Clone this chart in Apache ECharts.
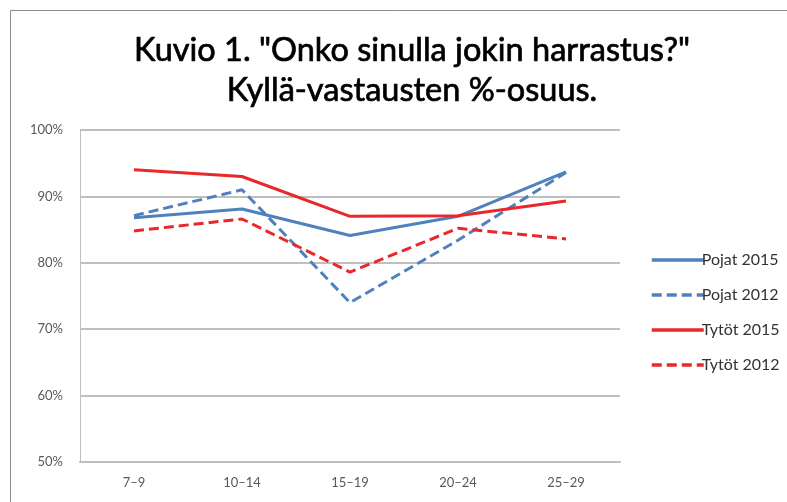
<!DOCTYPE html>
<html>
<head>
<meta charset="utf-8">
<script src="https://cdn.jsdelivr.net/npm/echarts@6/dist/echarts.min.js"></script>
<style>
html, body { margin: 0; padding: 0; background: #fff; }
#chart { width: 787px; height: 502px; }
</style>
</head>
<body>
<div id="chart"></div>
<script>
// ikäryhmät
const categories = ['7\u20139', '10\u201314', '15\u201319', '20\u201324', '25\u201329'];
const pojat2015 = [86.8, 88.1, 84.1, 87.0, 93.7];
const pojat2012 = [87.1, 91.0, 74.0, 83.4, 93.6];
const tytot2015 = [94.0, 93.0, 87.0, 87.1, 89.3];
const tytot2012 = [84.8, 86.6, 78.6, 85.2, 83.6];
const yTicks = [50, 60, 70, 80, 90, 100];

const blue = '#4F81BD';
const red = '#E8282B';

function makeSeries(name, data, color, dashed) {
    return {
        name: name,
        type: 'line',
        data: data,
        symbol: 'none',
        smooth: false,
        lineStyle: {
            color: color,
            width: 3,
            type: dashed ? [10, 5] : 'solid'
        },
        itemStyle: { color: color }
    };
}

const chart = echarts.init(document.getElementById('chart'));
chart.setOption({
    backgroundColor: '#fff',
    animation: false,
    title: {
        text: 'Kuvio 1. "Onko sinulla jokin harrastus?"\nKyllä-vastausten %-osuus.',
        left: 407,
        top: 26,
        textAlign: 'center',
        textStyle: {
            fontFamily: 'Lato',
            fontSize: 32.5,
            fontWeight: 'normal',
            color: '#000',
            textBorderColor: '#000',
            textBorderWidth: 0.7,
            lineHeight: 40
        }
    },
    graphic: [{
        type: 'rect',
        shape: { x: 10.5, y: 10.5, width: 800, height: 520 },
        style: { fill: 'none', stroke: '#8c8c8c', lineWidth: 1 },
        silent: true
    }],
    legend: {
        orient: 'vertical',
        left: 645,
        top: 247,
        itemWidth: 52,
        itemHeight: 14,
        itemGap: 19,
        itemStyle: { opacity: 0 },
        lineStyle: { width: 3.5 },
        textStyle: { fontFamily: 'Lato', fontSize: 16, color: '#333', padding: [0, 0, 0, -7] },
        data: ['Pojat 2015', 'Pojat 2012', 'Tytöt 2015', 'Tytöt 2012']
    },
    grid: { left: 80, right: 167, top: 130, bottom: 40 },
    xAxis: {
        type: 'category',
        data: categories,
        boundaryGap: true,
        axisLine: { show: true, lineStyle: { color: '#bfbfbf', width: 2 } },
        axisTick: { show: false },
        axisLabel: { color: '#595959', fontFamily: 'Lato', fontSize: 13, margin: 14 }
    },
    yAxis: {
        type: 'value',
        min: yTicks[0],
        max: yTicks[yTicks.length - 1],
        interval: 10,
        axisLine: { show: true, lineStyle: { color: '#bfbfbf', width: 1 } },
        axisTick: { show: false },
        splitLine: { lineStyle: { color: '#bfbfbf', width: 2 } },
        axisLabel: { color: '#595959', fontFamily: 'Lato', fontSize: 13, margin: 17, formatter: '{value}%' }
    },
    series: [
        makeSeries('Pojat 2015', pojat2015, blue, false),
        makeSeries('Pojat 2012', pojat2012, blue, true),
        makeSeries('Tytöt 2015', tytot2015, red, false),
        makeSeries('Tytöt 2012', tytot2012, red, true)
    ]
});
</script>
</body>
</html>
